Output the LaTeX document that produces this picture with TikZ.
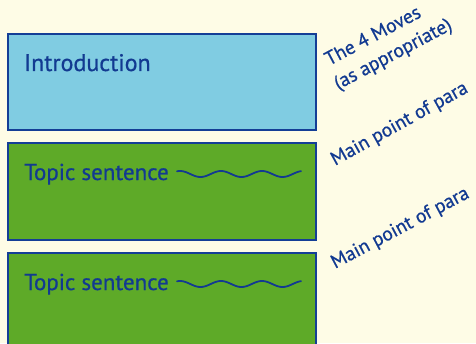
\documentclass[tikz,border=0pt]{standalone}
\usepackage{fontspec}
\setmainfont{PT Sans}[FakeBold=0.6]
\definecolor{bgc}{RGB}{254,252,230}
\definecolor{bluefill}{RGB}{128,204,226}
\definecolor{greenfill}{RGB}{94,170,40}
\definecolor{edgeblue}{RGB}{20,62,150}
\definecolor{inkblue}{RGB}{18,58,145}
\tikzset{
  panel/.style={draw=edgeblue, line width=2pt, minimum width=308pt, inner sep=0pt, anchor=north west},
  boxtext/.style={text=inkblue, anchor=base west, inner sep=0pt, font=\fontsize{23}{26}\selectfont},
  sidetext/.style={text=inkblue, anchor=base west, inner sep=0pt, font=\fontsize{19.5}{22}\selectfont},
  wave/.style={draw=inkblue, line width=1.8pt, line cap=round}
}
\begin{document}
\begin{tikzpicture}[x=1pt,y=1pt]
\useasboundingbox (0,0) rectangle (476,343);
\clip (0,0) rectangle (476,343);
\fill[bgc] (0,0) rectangle (476,343);
% boxes
\node[panel, fill=bluefill, minimum height=96pt] (intro) at (7,310) {};
\node[panel, fill=greenfill, minimum height=97pt] (para1) at (7,201) {};
\node[panel, fill=greenfill, minimum height=100pt] (para2) at (7,91) {};
% box texts
\node[boxtext, font=\fontsize{24}{26}\selectfont] (introtxt) at (24,272) {Introduction};
\node[boxtext] (topic1) at (24,163) {Topic sentence};
\node[boxtext] (topic2) at (24,53) {Topic sentence};
% waves
\draw[wave] plot[domain=177:301, samples=80, smooth] (\x, {169+3*cos(8.7805*(\x-180))});
\draw[wave] plot[domain=177:301, samples=80, smooth] (\x, {59+3*cos(8.7805*(\x-180))});
% side notes
\node[sidetext, rotate=28] (moves) at (329,277) {The 4 Moves};
\node[sidetext, rotate=28] (approp) at (338,253) {(as appropriate)};
\node[sidetext, rotate=29] (main1) at (335,177) {Main point of para};
\node[sidetext, rotate=28] (main2) at (335,74) {Main point of para};
\end{tikzpicture}
\end{document}
